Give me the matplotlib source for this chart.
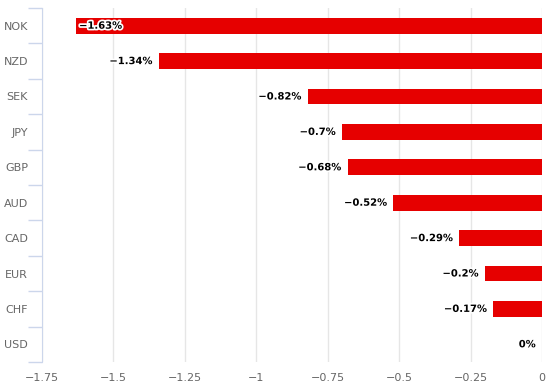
import numpy as np
import matplotlib.pyplot as plt
import matplotlib.patheffects as pe

# datos
monedas = ['NOK', 'NZD', 'SEK', 'JPY', 'GBP', 'AUD', 'CAD', 'EUR', 'CHF', 'USD']
cambios = [-1.63, -1.34, -0.82, -0.7, -0.68, -0.52, -0.29, -0.2, -0.17, 0]
etiquetas = ['\u22121.63%', '\u22121.34%', '\u22120.82%', '\u22120.7%', '\u22120.68%',
             '\u22120.52%', '\u22120.29%', '\u22120.2%', '\u22120.17%', '0%']
xticks = [-1.75, -1.5, -1.25, -1.0, -0.75, -0.5, -0.25, 0]
xtick_labels = ['\u22121.75', '\u22121.5', '\u22121.25', '\u22121', '\u22120.75',
                '\u22120.5', '\u22120.25', '0']

plt.rcParams['font.family'] = ['DejaVu Sans']
fig = plt.figure(figsize=(5.56, 3.86), dpi=100)
ax = fig.add_axes([42/556, 1-362/386, 500/556, 354/386])

y = np.arange(len(monedas))
ax.barh(y, cambios, height=0.45, color='#e60000', zorder=3)

ax.set_xlim(-1.75, 0)
ax.set_ylim(len(monedas)-0.5, -0.5)

ax.set_xticks(xticks)
ax.set_xticklabels(xtick_labels)
ax.set_yticks(y)
ax.set_yticklabels(monedas)
ax.set_yticks(np.arange(len(monedas)+1)-0.5, minor=True)

ax.tick_params(axis='x', length=0, pad=8, labelsize=8, labelcolor='#666666')
ax.tick_params(axis='y', which='major', length=0, pad=10, labelsize=8, labelcolor='#666666')
ax.tick_params(axis='y', which='minor', length=10, width=1, color='#ccd6eb')

ax.grid(axis='x', color='#e6e6e6', linewidth=1, zorder=0)
for s in ['top', 'right', 'bottom']:
    ax.spines[s].set_visible(False)
ax.spines['left'].set_color('#ccd6eb')

borde = [pe.withStroke(linewidth=2.5, foreground='white')]
for i in range(len(monedas)):
    v = cambios[i]
    if v < -1.5:
        # no cabe a la izquierda: dentro de la barra
        ax.annotate(etiquetas[i], (v, i), xytext=(2, 0), textcoords='offset points',
                    ha='left', va='center', fontsize=7.2, fontweight='bold',
                    color='black', path_effects=borde, zorder=4)
    else:
        ax.annotate(etiquetas[i], (v, i), xytext=(-4.5, 0), textcoords='offset points',
                    ha='right', va='center', fontsize=7.2, fontweight='bold',
                    color='black', path_effects=borde, zorder=4)

fig.savefig('out.png', dpi=100)
